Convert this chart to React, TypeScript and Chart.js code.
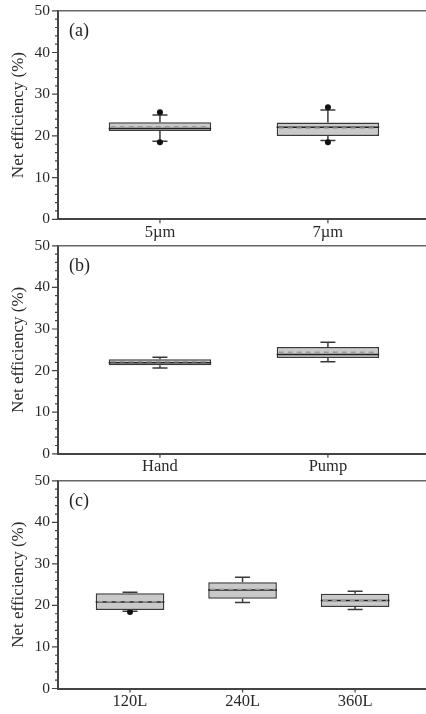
import React, { useEffect, useRef } from 'react';
import { Chart, registerables } from 'chart.js';

Chart.register(...registerables);

const FONT = '"Liberation Serif", "Times New Roman", serif';

// Panel (a)
const catsA = ['5µm', '7µm'];
const q1A = [21.2, 20.0];
const q3A = [23.3, 23.2];
const medA = [21.8, 22.1];
const meanA = [22.2, 21.9];
const loA = [18.7, 18.9];
const hiA = [25.0, 26.2];
const outA = [[18.5, 25.7], [18.5, 26.9]];

// Panel (b)
const catsB = ['Hand', 'Pump'];
const q1B = [21.3, 23.0];
const q3B = [22.7, 25.7];
const medB = [21.9, 23.9];
const meanB = [22.1, 24.4];
const loB = [20.6, 22.1];
const hiB = [23.2, 26.8];
const outB: number[][] = [[], []];

// Panel (c)
const catsC = ['120L', '240L', '360L'];
const q1C = [18.9, 21.6, 19.6];
const q3C = [22.9, 25.6, 22.8];
const medC = [20.8, 23.7, 21.2];
const meanC = [20.9, 23.9, 21.1];
const loC = [18.6, 20.7, 19.0];
const hiC = [23.2, 26.8, 23.4];
const outC = [[18.4], [], []];

const yTicks = [0, 10, 20, 30, 40, 50];
const yTitle = 'Net efficiency (%)';

type PanelData = {
  tag: string;
  cats: string[];
  q1: number[];
  q3: number[];
  med: number[];
  mean: number[];
  lo: number[];
  hi: number[];
  out: number[][];
  xmin: number;
  xmax: number;
  canvasTop: number;
  canvasH: number;
  areaTop: number;
  areaBottom: number;
};

const panels: PanelData[] = [
  { tag: '(a)', cats: catsA, q1: q1A, q3: q3A, med: medA, mean: meanA, lo: loA, hi: hiA, out: outA,
    xmin: 0.393, xmax: 2.584, canvasTop: 0, canvasH: 245, areaTop: 10.8, areaBottom: 219.3 },
  { tag: '(b)', cats: catsB, q1: q1B, q3: q3B, med: medB, mean: meanB, lo: loB, hi: hiB, out: outB,
    xmin: 0.393, xmax: 2.584, canvasTop: 230, canvasH: 245, areaTop: 15.8, areaBottom: 223.8 },
  { tag: '(c)', cats: catsC, q1: q1C, q3: q3C, med: medC, mean: meanC, lo: loC, hi: hiC, out: outC,
    xmin: 0.36, xmax: 3.63, canvasTop: 465, canvasH: 249, areaTop: 15.8, areaBottom: 223.5 },
];

const AXIS = '#444';
const TEXT = '#2a2a2a';
const STROKE = '#3a3a3a';

function makePlugin(p: PanelData) {
  return {
    id: 'boxExtras' + p.tag.replace(/[()]/g, ''),
    beforeDatasetsDraw(chart: any) {
      const { ctx } = chart;
      const x = chart.scales.x;
      const y = chart.scales.y;
      const cap = 7.5;
      ctx.save();
      ctx.strokeStyle = STROKE;
      ctx.lineWidth = 1.5;
      p.cats.forEach((_, i) => {
        const xc = x.getPixelForValue(i + 1);
        ctx.beginPath();
        ctx.moveTo(xc, y.getPixelForValue(p.q3[i]));
        ctx.lineTo(xc, y.getPixelForValue(p.hi[i]));
        ctx.moveTo(xc - cap, y.getPixelForValue(p.hi[i]));
        ctx.lineTo(xc + cap, y.getPixelForValue(p.hi[i]));
        ctx.moveTo(xc, y.getPixelForValue(p.q1[i]));
        ctx.lineTo(xc, y.getPixelForValue(p.lo[i]));
        ctx.moveTo(xc - cap, y.getPixelForValue(p.lo[i]));
        ctx.lineTo(xc + cap, y.getPixelForValue(p.lo[i]));
        ctx.stroke();
      });
      ctx.restore();
    },
    afterDatasetsDraw(chart: any) {
      const { ctx, chartArea } = chart;
      const x = chart.scales.x;
      const y = chart.scales.y;
      const meta = chart.getDatasetMeta(0);
      ctx.save();
      p.cats.forEach((_, i) => {
        const bar = meta.data[i];
        const half = bar.width / 2;
        const xc = x.getPixelForValue(i + 1);
        // median
        ctx.setLineDash([]);
        ctx.strokeStyle = '#222';
        ctx.lineWidth = 1.5;
        ctx.beginPath();
        ctx.moveTo(xc - half, y.getPixelForValue(p.med[i]));
        ctx.lineTo(xc + half, y.getPixelForValue(p.med[i]));
        ctx.stroke();
        // mean
        ctx.setLineDash([5, 4]);
        ctx.strokeStyle = '#999';
        ctx.lineWidth = 1.5;
        ctx.beginPath();
        ctx.moveTo(xc - half + 2, y.getPixelForValue(p.mean[i]));
        ctx.lineTo(xc + half - 2, y.getPixelForValue(p.mean[i]));
        ctx.stroke();
      });
      ctx.setLineDash([]);
      // top frame line
      ctx.strokeStyle = '#666';
      ctx.lineWidth = 1.5;
      ctx.beginPath();
      ctx.moveTo(chartArea.left, chartArea.top);
      ctx.lineTo(chartArea.right, chartArea.top);
      ctx.stroke();
      // y tick marks (major + minor)
      ctx.strokeStyle = AXIS;
      ctx.lineWidth = 1.2;
      ctx.beginPath();
      for (let v = 0; v <= 50; v += 2) {
        const py = y.getPixelForValue(v);
        const len = v % 10 === 0 ? 6 : 3;
        ctx.moveTo(chartArea.left - len, py);
        ctx.lineTo(chartArea.left, py);
      }
      // x tick marks
      p.cats.forEach((_, i) => {
        const px = x.getPixelForValue(i + 1);
        ctx.moveTo(px, chartArea.bottom);
        ctx.lineTo(px, chartArea.bottom + 4);
      });
      ctx.stroke();
      // panel tag
      ctx.fillStyle = '#222';
      ctx.font = `18px ${FONT}`;
      ctx.textAlign = 'left';
      ctx.textBaseline = 'middle';
      ctx.fillText(p.tag, chartArea.left + 11, chartArea.top + 20);
      ctx.restore();
    },
  };
}

function PanelChart({ p }: { p: PanelData }) {
  const ref = useRef<HTMLCanvasElement | null>(null);
  useEffect(() => {
    if (!ref.current) return;
    const outPts: { x: number; y: number }[] = [];
    p.out.forEach((arr, i) => arr.forEach((v) => outPts.push({ x: i + 1, y: v })));
    const chart = new Chart(ref.current, {
      type: 'bar',
      data: {
        datasets: [
          {
            type: 'bar',
            data: p.cats.map((_, i) => ({ x: i + 1, y: [p.q1[i], p.q3[i]] })) as any,
            backgroundColor: '#c9c9c9',
            borderColor: STROKE,
            borderWidth: 1.5,
            borderSkipped: false,
            barPercentage: 0.61,
            categoryPercentage: 1,
          } as any,
          {
            type: 'scatter',
            data: outPts,
            pointRadius: 3,
            pointBackgroundColor: '#111',
            pointBorderColor: '#111',
            pointBorderWidth: 0,
            clip: false,
          } as any,
        ],
      },
      options: {
        responsive: false,
        animation: false,
        events: [],
        layout: { autoPadding: false, padding: { top: p.areaTop, left: 0, right: 0, bottom: 0 } },
        plugins: { legend: { display: false }, tooltip: { enabled: false } },
        scales: {
          x: {
            type: 'linear',
            min: p.xmin,
            max: p.xmax,
            offset: false,
            grid: { display: false, drawTicks: false, offset: false },
            border: { display: true, color: AXIS, width: 2 },
            afterBuildTicks: (s: any) => {
              s.ticks = p.cats.map((_, i) => ({ value: i + 1 }));
            },
            afterFit: (s: any) => {
              s.height = p.canvasH - p.areaBottom;
              s.paddingLeft = 0;
              s.paddingRight = 0;
            },
            ticks: {
              autoSkip: false,
              maxRotation: 0,
              padding: 3,
              color: TEXT,
              font: { family: FONT, size: 16.5 },
              callback: (_v: any, idx: number) => p.cats[idx],
            },
          },
          y: {
            type: 'linear',
            min: 0,
            max: 50,
            grid: { display: false, drawTicks: false },
            border: { display: true, color: AXIS, width: 2 },
            afterBuildTicks: (s: any) => {
              s.ticks = yTicks.map((v) => ({ value: v }));
            },
            afterFit: (s: any) => {
              s.width = 58;
              s.paddingTop = 0;
              s.paddingBottom = 0;
            },
            ticks: {
              padding: 8,
              color: TEXT,
              font: { family: FONT, size: 15.5 },
            },
            title: {
              display: true,
              text: yTitle,
              color: TEXT,
              font: { family: FONT, size: 17 },
              padding: { top: 8, bottom: 0 },
            },
          },
        },
      } as any,
      plugins: [makePlugin(p)],
    });
    return () => chart.destroy();
  }, [p]);
  return (
    <canvas
      ref={ref}
      width={426}
      height={p.canvasH}
      style={{ position: 'absolute', left: 0, top: p.canvasTop, width: 426, height: p.canvasH }}
    />
  );
}

export default function App() {
  useEffect(() => {
    document.body.style.margin = '0';
    document.body.style.background = '#fff';
  }, []);
  return (
    <div style={{ position: 'relative', width: 426, height: 714, overflow: 'hidden', background: '#fff' }}>
      {panels.map((p) => (
        <PanelChart key={p.tag} p={p} />
      ))}
    </div>
  );
}
